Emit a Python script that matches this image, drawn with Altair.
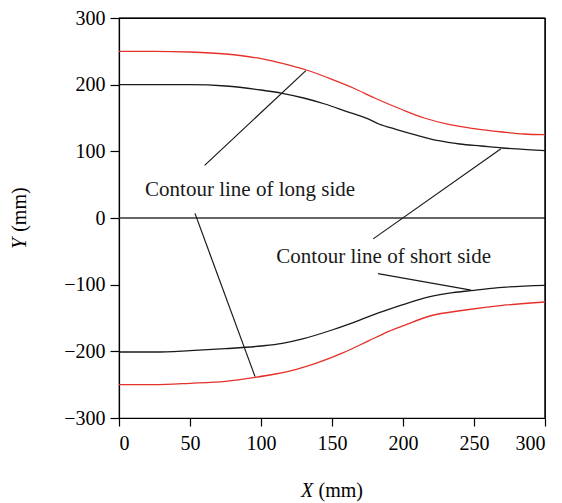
import altair as alt
import pandas as pd

# ---- data ----
red_up_x = [0, 25, 50, 75, 100, 115, 132, 150, 165, 180, 200, 215, 233, 250, 270, 285, 300]
red_up_y = [250, 250, 249, 246, 239, 232, 222, 208, 195, 180, 162, 150, 140, 134, 129, 126, 125]

blk_up_x = [0, 25, 50, 75, 100, 115, 130, 145, 160, 175, 183, 195, 210, 225, 240, 255, 270, 285, 300]
blk_up_y = [200, 200, 200, 198, 192, 187, 180, 171, 160, 149, 141, 133, 124, 116, 111, 108, 105, 103, 101]

blk_lo_x = [0, 25, 50, 75, 100, 115, 130, 150, 165, 178, 190, 200, 219, 235, 250, 270, 300]
blk_lo_y = [-201, -201, -199, -196, -192, -188, -181, -168, -157, -146, -137, -130, -118, -112, -108.5, -104, -101]

red_lo_x = [0, 25, 50, 75, 96, 110, 125, 140, 158, 176, 190, 201, 219, 244, 270, 300]
red_lo_y = [-250, -250, -248, -245, -239, -234, -227, -217, -202, -184, -170, -161, -147, -138, -131, -126]

# leader lines (x1, y1, x2, y2)
lead_x1 = [131.6, 269, 53.5, 182.4]
lead_y1 = [221, 104, 7, -83.5]
lead_x2 = [60.3, 179, 95.8, 248]
lead_y2 = [79, -31.3, -238, -108.3]

labels = ["Contour line of long side", "Contour line of short side"]
label_x = [92.3, 186.4]
label_y = [33, -67]

x_ticks = list(range(0, 301, 25))
y_ticks = list(range(-300, 301, 50))

FONT = "Liberation Serif"
RED = "#e4312a"
BLACK = "#1a1a1a"

rows = []
for name, xs, ys in [("red_up", red_up_x, red_up_y), ("blk_up", blk_up_x, blk_up_y),
                     ("blk_lo", blk_lo_x, blk_lo_y), ("red_lo", red_lo_x, red_lo_y)]:
    for i, (a, b) in enumerate(zip(xs, ys)):
        rows.append({"series": name, "x": a, "y": b, "order": i})
lines_df = pd.DataFrame(rows)

lead_df = pd.DataFrame({"x": lead_x1, "y": lead_y1, "x2": lead_x2, "y2": lead_y2})
text_df = pd.DataFrame({"t": labels, "x": label_x, "y": label_y})

xscale = alt.Scale(domain=[0, 300], nice=False, zero=False)
yscale = alt.Scale(domain=[-300, 300], nice=False, zero=False)

xaxis = alt.Axis(
    values=x_ticks, title="", grid=False,
    labelExpr="datum.value % 50 === 0 ? datum.label : ''",
    tickSize={"condition": {"test": "datum.value % 50 === 0", "value": 8}, "value": 5},
    labelFont=FONT, labelFontSize=20, labelColor="black", labelPadding=7,
    domainColor="black", tickColor="black", domainWidth=1.2, tickWidth=1.2,
)
yaxis = alt.Axis(
    values=y_ticks, title="", grid=False,
    labelExpr="datum.value % 100 === 0 ? datum.label : ''",
    tickSize={"condition": {"test": "datum.value % 100 === 0", "value": 9}, "value": 5},
    labelFont=FONT, labelFontSize=20, labelColor="black", labelPadding=5,
    domainColor="black", tickColor="black", domainWidth=1.2, tickWidth=1.2,
)

lines = alt.Chart(lines_df).mark_line(strokeWidth=1.3, interpolate="monotone").encode(
    x=alt.X("x:Q", scale=xscale, axis=xaxis),
    y=alt.Y("y:Q", scale=yscale, axis=yaxis),
    detail="series:N",
    order="order:Q",
    color=alt.Color("series:N", scale=alt.Scale(
        domain=["red_up", "blk_up", "blk_lo", "red_lo"],
        range=[RED, BLACK, BLACK, RED]), legend=None),
)

zero = alt.Chart(pd.DataFrame({"y": [0]})).mark_rule(color="#333333", strokeWidth=1.6).encode(
    y=alt.Y("y:Q", scale=yscale)
)

# frame: top and right edges of the plot box
top_edge = alt.Chart(pd.DataFrame({"y": [300]})).mark_rule(color="black", strokeWidth=1.2).encode(
    y=alt.Y("y:Q", scale=yscale)
)
right_edge = alt.Chart(pd.DataFrame({"x": [300]})).mark_rule(color="black", strokeWidth=1.2).encode(
    x=alt.X("x:Q", scale=xscale)
)

leaders = alt.Chart(lead_df).mark_rule(color=BLACK, strokeWidth=1.2).encode(
    x=alt.X("x:Q", scale=xscale), y=alt.Y("y:Q", scale=yscale),
    x2="x2:Q", y2="y2:Q",
)

texts = alt.Chart(text_df).mark_text(font=FONT, fontSize=21, color=BLACK,
                                     align="center", baseline="alphabetic").encode(
    x=alt.X("x:Q", scale=xscale), y=alt.Y("y:Q", scale=yscale), text="t:N"
)

title_df = pd.DataFrame({"a": [0]})
x_title_1 = alt.Chart(title_df).mark_text(font=FONT, fontSize=20, fontStyle="italic",
                                          align="left", baseline="alphabetic", color="black").encode(
    x=alt.value(182), y=alt.value(479), text=alt.value("X"))
x_title_2 = alt.Chart(title_df).mark_text(font=FONT, fontSize=20,
                                          align="left", baseline="alphabetic", color="black").encode(
    x=alt.value(199.5), y=alt.value(479), text=alt.value("(mm)"))
y_title_1 = alt.Chart(title_df).mark_text(font=FONT, fontSize=20, fontStyle="italic", angle=270,
                                          align="left", baseline="alphabetic", color="black").encode(
    x=alt.value(-93), y=alt.value(231), text=alt.value("Y"))
y_title_2 = alt.Chart(title_df).mark_text(font=FONT, fontSize=20, angle=270,
                                          align="left", baseline="alphabetic", color="black").encode(
    x=alt.value(-93), y=alt.value(213.8), text=alt.value("(mm)"))

chart = alt.layer(zero, top_edge, right_edge, lines, leaders, texts,
                  x_title_1, x_title_2, y_title_1, y_title_2).properties(
    width=426, height=400,
    background="white",
    autosize=alt.AutoSizeParams(type="none"),
    padding={"left": 111, "top": 10, "right": 8, "bottom": 84},
).configure_view(stroke="black", strokeWidth=1.2)

chart.save("out.html", embed_options={"renderer": "svg", "actions": False})
